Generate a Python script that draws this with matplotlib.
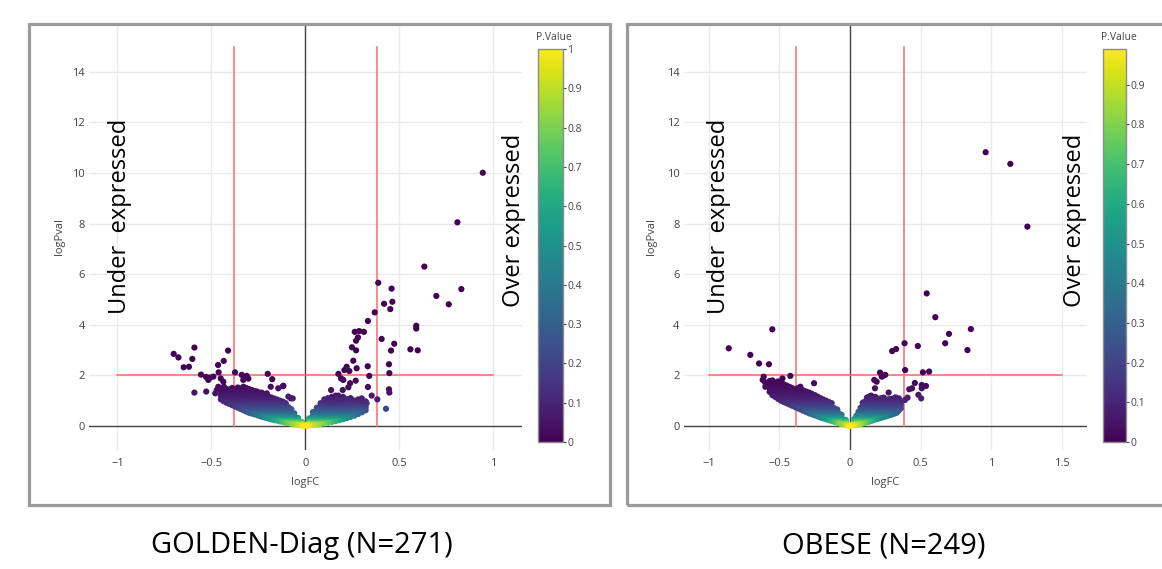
import numpy as np
import matplotlib.pyplot as plt
from matplotlib.patches import Rectangle

plt.rcParams['font.family'] = ['Open Sans', 'DejaVu Sans']

W, H = 1162, 569

# ---- GOLDEN-Diag (N=271) ----
golden_points = [
    (0.943, 10.01), (0.808, 8.05), (0.632, 6.30), (0.829, 5.41), (0.696, 5.14),
    (0.762, 4.81), (0.387, 5.66), (0.458, 5.43), (0.462, 4.91), (0.418, 4.83),
    (0.451, 4.62), (0.368, 4.49), (0.332, 4.15), (0.589, 3.96), (0.589, 3.85),
    (0.286, 3.75), (0.262, 3.72), (0.311, 3.72), (0.279, 3.50), (0.269, 3.37),
    (0.405, 3.44), (0.472, 3.25), (0.247, 3.11), (0.269, 2.99), (0.455, 2.98),
    (0.558, 3.03), (0.597, 2.99), (0.254, 2.58), (0.444, 2.44), (0.331, 2.36),
    (0.446, 2.09), (0.339, 1.98), (0.332, 1.54), (0.352, 1.20), (0.382, 1.05),
    (0.444, 1.45), (0.446, 1.32), (0.428, 0.68), (0.219, 2.34), (0.233, 2.17),
    (0.207, 2.21), (0.175, 2.06), (0.189, 1.88), (0.267, 1.79), (0.201, 1.82),
    (0.136, 1.42), (0.237, 1.69), (0.228, 1.53), (0.272, 2.28), (0.198, 1.42),
    (0.175, 1.20), (0.299, 1.09), (0.325, 0.90),
    (-0.701, 2.85), (-0.676, 2.71), (-0.591, 3.10), (-0.602, 2.65), (-0.648, 2.32),
    (-0.620, 2.34), (-0.412, 2.98), (-0.435, 2.57), (-0.465, 2.41), (-0.462, 2.12),
    (-0.375, 2.12), (-0.556, 2.03), (-0.529, 1.94), (-0.508, 1.91), (-0.517, 1.82),
    (-0.490, 1.95), (-0.591, 1.32), (-0.528, 1.36), (-0.480, 1.29), (-0.464, 1.55),
    (-0.472, 1.42), (-0.451, 1.88), (-0.437, 1.75), (-0.434, 1.55), (-0.339, 2.02),
    (-0.313, 1.98), (-0.331, 1.82), (-0.201, 2.06), (-0.177, 1.85), (-0.185, 1.55),
    (-0.145, 1.49), (-0.120, 1.57), (-0.233, 1.32), (-0.206, 1.29), (-0.091, 1.16),
    (-0.068, 1.09), (-0.402, 1.45), (-0.411, 1.29), (-0.419, 1.09), (-0.423, 0.96),
    (-0.304, 1.87), (-0.257, 1.36), (-0.118, 1.59), (-0.078, 1.09),
]
# dense part, one column of logPval values per logFC
golden_cloud = [
    (-0.45, [1.05, 1.2, 1.35, 1.5]),
    (-0.435, [0.98, 1.12, 1.25, 1.4, 1.52]),
    (-0.42, [0.92, 1.05, 1.18, 1.32, 1.46]),
    (-0.405, [0.87, 1.0, 1.14, 1.28, 1.42]),
    (-0.39, [0.82, 0.95, 1.08, 1.22, 1.36, 1.5]),
    (-0.375, [0.77, 0.9, 1.04, 1.18, 1.32, 1.46]),
    (-0.36, [0.72, 0.85, 0.98, 1.12, 1.25, 1.4, 1.52]),
    (-0.345, [0.67, 0.8, 0.94, 1.07, 1.2, 1.34, 1.48]),
    (-0.33, [0.62, 0.75, 0.88, 1.0, 1.14, 1.28, 1.42, 1.55]),
    (-0.315, [0.57, 0.7, 0.83, 0.96, 1.1, 1.24, 1.38, 1.5]),
    (-0.30, [0.52, 0.65, 0.78, 0.9, 1.04, 1.18, 1.32, 1.46]),
    (-0.285, [0.49, 0.62, 0.74, 0.87, 1.0, 1.14, 1.28, 1.42]),
    (-0.27, [0.46, 0.58, 0.7, 0.83, 0.96, 1.1, 1.24, 1.38]),
    (-0.255, [0.42, 0.54, 0.66, 0.79, 0.92, 1.06, 1.2, 1.34]),
    (-0.24, [0.38, 0.5, 0.62, 0.75, 0.88, 1.02, 1.16, 1.3]),
    (-0.225, [0.35, 0.46, 0.58, 0.71, 0.84, 0.98, 1.12, 1.25]),
    (-0.21, [0.32, 0.43, 0.55, 0.67, 0.8, 0.93, 1.06, 1.2]),
    (-0.195, [0.29, 0.4, 0.51, 0.63, 0.76, 0.89, 1.02, 1.16]),
    (-0.18, [0.26, 0.36, 0.47, 0.59, 0.72, 0.85, 0.98, 1.12]),
    (-0.165, [0.23, 0.33, 0.44, 0.56, 0.68, 0.81, 0.94, 1.08]),
    (-0.15, [0.21, 0.3, 0.4, 0.52, 0.64, 0.77, 0.9, 1.04]),
    (-0.135, [0.18, 0.27, 0.37, 0.48, 0.6, 0.73, 0.86, 1.0]),
    (-0.12, [0.16, 0.24, 0.33, 0.44, 0.56, 0.68, 0.82, 0.96]),
    (-0.105, [0.13, 0.21, 0.3, 0.4, 0.52, 0.64, 0.78, 0.9]),
    (-0.09, [0.11, 0.18, 0.26, 0.36, 0.47, 0.6, 0.74]),
    (-0.075, [0.09, 0.15, 0.22, 0.32, 0.42, 0.55, 0.66]),
    (-0.06, [0.07, 0.12, 0.19, 0.28, 0.38, 0.5]),
    (-0.04, [0.04, 0.09, 0.15, 0.23, 0.32]),
    (-0.02, [0.02, 0.05, 0.1, 0.16]),
    (-0.01, [0.0, 0.03]),
    (0.01, [0.0, 0.03, 0.08]),
    (0.02, [0.02, 0.07, 0.14, 0.22, 0.3]),
    (0.04, [0.04, 0.11, 0.2, 0.3, 0.42, 0.55]),
    (0.06, [0.06, 0.14, 0.24, 0.35, 0.47, 0.6, 0.72]),
    (0.08, [0.08, 0.17, 0.28, 0.4, 0.52, 0.65, 0.78, 0.9]),
    (0.10, [0.1, 0.2, 0.31, 0.43, 0.56, 0.69, 0.82, 0.95, 1.05]),
    (0.12, [0.13, 0.24, 0.35, 0.47, 0.6, 0.73, 0.86, 1.0, 1.1]),
    (0.14, [0.16, 0.27, 0.39, 0.51, 0.64, 0.77, 0.9, 1.03, 1.15]),
    (0.16, [0.19, 0.3, 0.42, 0.55, 0.68, 0.81, 0.94, 1.08, 1.2]),
    (0.18, [0.23, 0.34, 0.46, 0.58, 0.71, 0.84, 0.98, 1.12]),
    (0.20, [0.27, 0.38, 0.5, 0.62, 0.75, 0.88, 1.02, 1.15]),
    (0.22, [0.31, 0.42, 0.54, 0.66, 0.79, 0.92, 1.06]),
    (0.24, [0.36, 0.47, 0.58, 0.7, 0.83, 0.96, 1.1]),
    (0.26, [0.41, 0.52, 0.63, 0.75, 0.88, 1.0]),
    (0.28, [0.47, 0.58, 0.69, 0.8, 0.92, 1.05]),
    (0.30, [0.54, 0.65, 0.76, 0.88, 1.0]),
    (0.32, [0.62, 0.74, 0.86, 0.97]),
]

# ---- OBESE (N=249) ----
obese_points = [
    (0.962, 10.82), (1.137, 10.36), (1.258, 7.88), (0.544, 5.24), (0.605, 4.30),
    (0.702, 3.64), (0.857, 3.83), (0.675, 3.27), (0.833, 3.00), (0.481, 3.16),
    (0.387, 3.27), (0.299, 2.96), (0.327, 3.04), (0.391, 2.21), (0.517, 2.12),
    (0.561, 2.15), (0.509, 1.62), (0.509, 1.49), (0.505, 1.09), (0.46, 1.70),
    (0.44, 1.49), (0.42, 1.45), (0.408, 1.12), (0.39, 1.03), (0.213, 2.11),
    (0.25, 2.02), (0.236, 1.99), (0.189, 1.75), (0.172, 1.82), (0.177, 1.49),
    (0.225, 1.95), (0.274, 1.32), (0.323, 1.13), (0.347, 1.09), (0.30, 1.03),
    (0.485, 1.23), (0.539, 1.58),
    (-0.86, 3.07), (-0.551, 3.82), (-0.707, 2.81), (-0.645, 2.47), (-0.575, 2.44),
    (-0.612, 1.95), (-0.619, 1.82), (-0.423, 1.98), (-0.479, 1.88), (-0.491, 1.75),
    (-0.352, 1.55), (-0.255, 1.69), (-0.58, 1.62), (-0.60, 1.72), (-0.56, 1.75),
]
obese_cloud = [
    (-0.60, [1.55, 1.7]),
    (-0.57, [1.35, 1.5, 1.65, 1.78]),
    (-0.55, [1.22, 1.38, 1.52, 1.66, 1.8]),
    (-0.53, [1.15, 1.3, 1.45, 1.6, 1.72]),
    (-0.51, [1.07, 1.21, 1.35, 1.5, 1.64, 1.76]),
    (-0.49, [1.0, 1.14, 1.28, 1.42, 1.56, 1.7]),
    (-0.47, [0.95, 1.09, 1.23, 1.37, 1.51, 1.65]),
    (-0.45, [0.9, 1.03, 1.17, 1.31, 1.45, 1.6]),
    (-0.43, [0.85, 0.98, 1.12, 1.26, 1.4, 1.55]),
    (-0.41, [0.8, 0.93, 1.07, 1.21, 1.35, 1.5]),
    (-0.39, [0.75, 0.88, 1.02, 1.16, 1.3, 1.44]),
    (-0.37, [0.7, 0.83, 0.96, 1.1, 1.24, 1.38, 1.5]),
    (-0.35, [0.65, 0.78, 0.92, 1.06, 1.2, 1.34, 1.46]),
    (-0.33, [0.6, 0.73, 0.86, 1.0, 1.14, 1.28, 1.4]),
    (-0.31, [0.55, 0.68, 0.82, 0.96, 1.1, 1.24, 1.36]),
    (-0.29, [0.5, 0.63, 0.76, 0.9, 1.04, 1.18, 1.32]),
    (-0.27, [0.46, 0.58, 0.71, 0.85, 0.99, 1.13, 1.27]),
    (-0.25, [0.42, 0.54, 0.67, 0.8, 0.94, 1.08, 1.22]),
    (-0.23, [0.38, 0.5, 0.62, 0.75, 0.88, 1.02, 1.16]),
    (-0.21, [0.34, 0.45, 0.57, 0.7, 0.83, 0.97, 1.1]),
    (-0.19, [0.3, 0.41, 0.52, 0.65, 0.78, 0.92, 1.05]),
    (-0.17, [0.27, 0.37, 0.48, 0.6, 0.73, 0.86, 1.0]),
    (-0.15, [0.23, 0.33, 0.44, 0.55, 0.67, 0.8, 0.95]),
    (-0.13, [0.2, 0.29, 0.39, 0.5, 0.62, 0.75, 0.9]),
    (-0.11, [0.16, 0.25, 0.34, 0.45, 0.57, 0.7]),
    (-0.09, [0.13, 0.21, 0.3, 0.4, 0.52, 0.65]),
    (-0.075, [0.1, 0.18, 0.26, 0.36, 0.48]),
    (-0.06, [0.08, 0.15, 0.23, 0.33, 0.44]),
    (-0.03, [0.04, 0.09, 0.16, 0.24]),
    (-0.01, [0.0, 0.04]),
    (0.01, [0.0, 0.04]),
    (0.03, [0.03, 0.1, 0.18, 0.27]),
    (0.045, [0.05, 0.12, 0.2, 0.3, 0.4]),
    (0.06, [0.06, 0.14, 0.23, 0.33, 0.44, 0.56]),
    (0.075, [0.08, 0.16, 0.26, 0.36, 0.47, 0.6, 0.72]),
    (0.09, [0.1, 0.19, 0.29, 0.4, 0.52, 0.65, 0.78, 0.92]),
    (0.105, [0.12, 0.22, 0.32, 0.44, 0.56, 0.69, 0.82, 0.96]),
    (0.12, [0.15, 0.25, 0.36, 0.48, 0.6, 0.73, 0.86, 1.0, 1.12]),
    (0.135, [0.17, 0.28, 0.4, 0.52, 0.64, 0.77, 0.9, 1.04, 1.16]),
    (0.15, [0.2, 0.31, 0.43, 0.55, 0.68, 0.81, 0.94, 1.08, 1.2]),
    (0.165, [0.23, 0.34, 0.46, 0.58, 0.71, 0.84, 0.98, 1.12]),
    (0.18, [0.26, 0.37, 0.49, 0.62, 0.75, 0.88, 1.02, 1.15]),
    (0.195, [0.28, 0.4, 0.52, 0.65, 0.78, 0.91, 1.05]),
    (0.21, [0.31, 0.43, 0.55, 0.68, 0.81, 0.95, 1.08]),
    (0.225, [0.33, 0.45, 0.57, 0.7, 0.83, 0.97, 1.1]),
    (0.24, [0.36, 0.48, 0.6, 0.73, 0.86, 1.0, 1.12]),
    (0.255, [0.38, 0.5, 0.63, 0.76, 0.89, 1.02]),
    (0.27, [0.41, 0.53, 0.66, 0.79, 0.92, 1.05]),
    (0.285, [0.43, 0.55, 0.68, 0.81, 0.94, 1.06]),
    (0.30, [0.46, 0.58, 0.71, 0.84, 0.97, 1.08]),
    (0.315, [0.49, 0.62, 0.75, 0.88, 1.0]),
    (0.33, [0.52, 0.65, 0.78, 0.9, 1.02]),
    (0.345, [0.6, 0.74, 0.86, 0.98]),
    (0.36, [0.7, 0.82, 0.92]),
]

titles = ["GOLDEN-Diag (N=271)", "OBESE (N=249)"]
fc_cut = 0.38
logp_cut = 2


def fbox(x0, y0, x1, y1):
    # pixel box (top-left origin) -> figure fraction rect
    return [x0 / W, 1 - y1 / H, (x1 - x0) / W, (y1 - y0) / H]


def expand(points, cloud):
    xs = [p[0] for p in points]
    ys = [p[1] for p in points]
    for x, col in cloud:
        xs += [x] * len(col)
        ys += col
    return np.array(xs), np.array(ys)


panels = [
    dict(points=golden_points, cloud=golden_cloud, ax=(89.3, 25, 521.7, 450),
         xlim=(-1.15, 1.15), xticks=[-1, -0.5, 0, 0.5, 1], hend=1.0,
         cax=(538, 49, 563, 442), pmax=1.0, cticks=np.arange(0, 1.01, 0.1),
         frame=(28.5, 23.5, 609.5, 504.5), under_x=120, over_x=514,
         ylab_x=60, title_x=302),
    dict(points=obese_points, cloud=obese_cloud, ax=(683.6, 25, 1086.9, 450),
         xlim=(-1.18, 1.68), xticks=[-1, -0.5, 0, 0.5, 1, 1.5], hend=1.5,
         cax=(1103, 49, 1126, 442), pmax=0.99, cticks=np.arange(0, 0.91, 0.1),
         frame=(626.5, 23.5, 1175, 504.5), under_x=719, over_x=1075,
         ylab_x=651, title_x=884),
]

fig = plt.figure(figsize=(W / 100, H / 100), dpi=100)

for i, p in enumerate(panels):
    x0, y0, x1, y1 = p['frame']
    fig.patches.append(Rectangle((x0 / W, 1 - y1 / H), (x1 - x0) / W, (y1 - y0) / H,
                                 transform=fig.transFigure, fill=False,
                                 edgecolor='#9b9b9b', linewidth=2.3))

    ax = fig.add_axes(fbox(*p['ax']))
    ax.set_xlim(*p['xlim'])
    ax.set_ylim(-0.95, 15.85)
    for s in ax.spines.values():
        s.set_visible(False)
    ax.set_xticks(p['xticks'])
    ax.set_xticklabels([f"{t:g}".replace('-', '\u2212') for t in p['xticks']])
    ax.set_yticks(range(0, 15, 2))
    ax.tick_params(length=0, labelsize=8, colors='#444444', pad=6)
    ax.tick_params(axis='y', pad=3)
    ax.grid(True, color='#ebebeb', lw=1)
    ax.set_axisbelow(True)
    ax.axhline(0, color='#444444', lw=1, zorder=1)
    ax.axvline(0, color='#444444', lw=1, zorder=1)

    # thresholds
    ax.plot([-fc_cut, -fc_cut], [0, 15], color='#ff6a6a', lw=1.1, zorder=2)
    ax.plot([fc_cut, fc_cut], [0, 15], color='#ff6a6a', lw=1.1, zorder=2)
    ax.plot([-1, p['hend']], [logp_cut, logp_cut], color='#ff6a6a', lw=1.1, zorder=2)

    fc, lp = expand(p['points'], p['cloud'])
    pv = 10 ** (-lp)
    order = np.argsort(-lp)
    sc = ax.scatter(fc[order], lp[order], c=pv[order], cmap='viridis', vmin=0,
                    vmax=p['pmax'], s=20, linewidths=0, zorder=3)

    cax = fig.add_axes(fbox(*p['cax']))
    cb = fig.colorbar(sc, cax=cax, ticks=p['cticks'])
    cb.ax.set_yticklabels([f"{t:g}" for t in np.round(p['cticks'], 1)])
    cb.outline.set_edgecolor('#8c8c8c')
    cb.outline.set_linewidth(1)
    cb.ax.tick_params(length=2, width=0.8, colors='#444444', labelsize=7.5, pad=1)
    fig.text((p['cax'][0] - 2) / W, 1 - 37 / H, "P.Value", fontsize=7.5,
             color='#444444', ha='left', va='center')

    ax_c = (p['ax'][0] + p['ax'][2]) / 2
    fig.text(ax_c / W, 1 - 483 / H, "logFC", fontsize=8, color='#444444',
             ha='center', va='center')
    fig.text(p['ylab_x'] / W, 1 - 237 / H, "logPval", fontsize=8, color='#444444',
             rotation=90, ha='center', va='center')

    fig.text(p['under_x'] / W, 1 - 216 / H, "Under  expressed", fontsize=17,
             rotation=90, ha='center', va='center')
    fig.text(p['over_x'] / W, 1 - 220 / H, "Over expressed", fontsize=17,
             rotation=90, ha='center', va='center')

    fig.text(p['title_x'] / W, 1 - 546 / H, titles[i], fontsize=21,
             ha='center', va='center')

fig.savefig('out.png', dpi=100)
